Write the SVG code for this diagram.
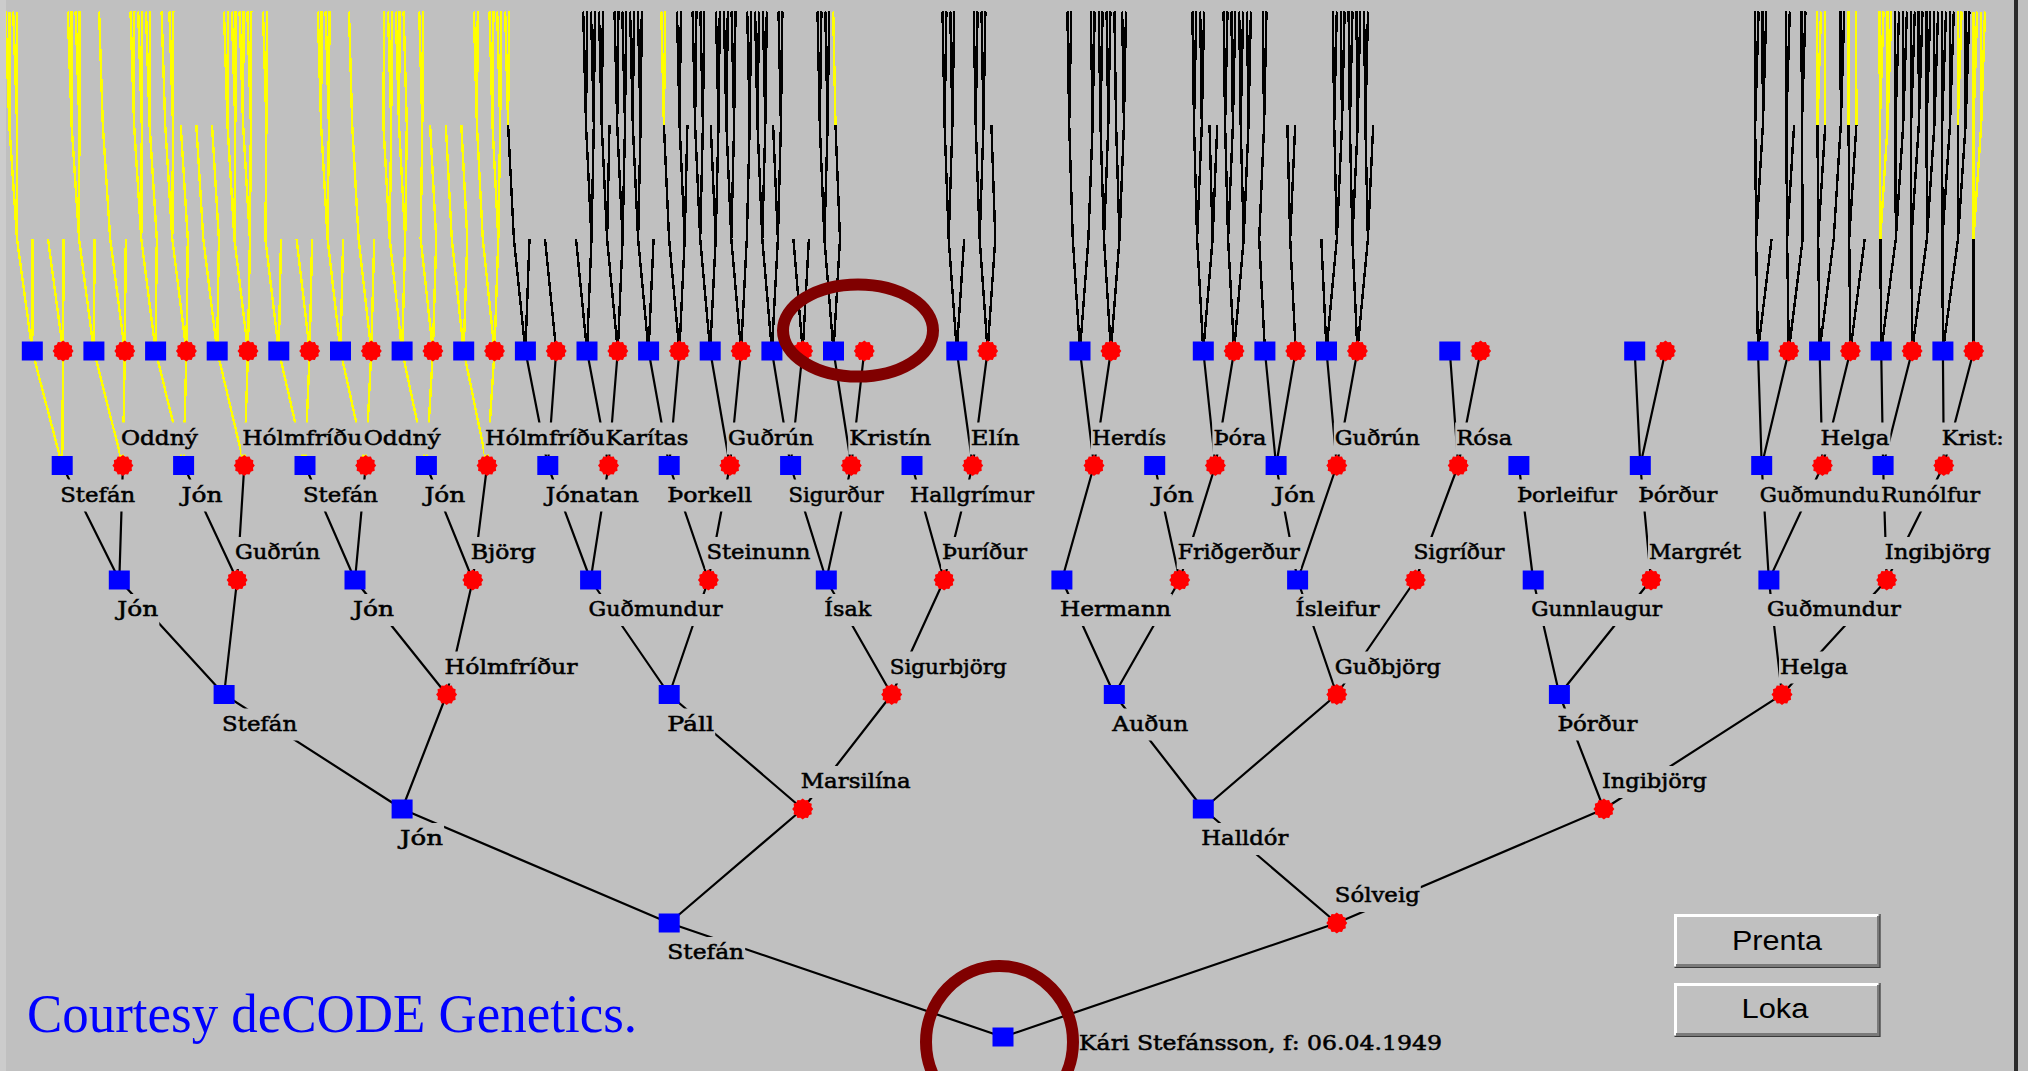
<svg xmlns="http://www.w3.org/2000/svg" width="2028" height="1071" viewBox="0 0 2028 1071">
<style>
.c{fill:none;stroke:#000;stroke-width:2.2}
.y{fill:none;stroke:#ffff00;stroke-width:2.4;shape-rendering:crispEdges}
.a{fill:none;stroke:#000;stroke-width:2.4;shape-rendering:crispEdges}
.b{fill:#c0c0c0}
.l{font-family:"DejaVu Serif",serif;font-size:21px;fill:#000;stroke:#000;stroke-width:0.55}
.btn{font-family:"Liberation Sans",Arial,sans-serif;font-size:27px;fill:#000}
</style>
<defs>
<rect id="sq" x="-10.5" y="-9.5" width="21" height="19" fill="#0000ff"/>
<polygon id="rd" fill="#ff0000" points="10.5,0 8.69,2.33 9.09,5.25 6.36,6.36 5.25,9.09 2.33,8.69 0,10.5 -2.33,8.69 -5.25,9.09 -6.36,6.36 -9.09,5.25 -8.69,2.33 -10.5,0 -8.69,-2.33 -9.09,-5.25 -6.36,-6.36 -5.25,-9.09 -2.33,-8.69 0,-10.5 2.33,-8.69 5.25,-9.09 6.36,-6.36 9.09,-5.25 8.69,-2.33"/>
</defs>
<rect width="2028" height="1071" fill="#c0c0c0"/>
<g id="connectors">
<path class="y" d="M32.3 351L17 239L9.3 125L5.4 11.5M9.3 125L9.3 11.5M17 239L17.1 125L13.2 11.5M17.1 125L17.1 11.5M32.3 351L32.5 239
M63.1 351L48 239M63.1 351L63.6 239
M93.9 351L79.1 239L71.6 125L67.8 11.5M71.6 125L71.7 11.5M79.1 239L79.4 125L75.6 11.5M79.4 125L79.5 11.5M93.9 351L94.6 239
M124.8 351L110.2 239L102.8 125L99.1 11.5M124.8 351L125.8 239
M155.6 351L141.3 239L134.1 125L130.5 11.5M134.1 125L134.3 11.5M141.3 239L141.8 125L138.2 11.5M141.8 125L142 11.5M155.6 351L156.8 239L149.6 125L146 11.5M149.6 125L149.8 11.5
M186.4 351L172.3 239L165.2 125L161.6 11.5M172.3 239L173 125L169.4 11.5M173 125L173.3 11.5M186.4 351L187.8 239L180.7 125
M217.2 351L203.3 239L196.3 125M217.2 351L218.9 239L212 125
M248 351L234.4 239L227.5 125L224 11.5M227.5 125L227.9 11.5M234.4 239L235.3 125L231.8 11.5M235.3 125L235.7 11.5M248 351L249.9 239L243.1 125L239.6 11.5M243.1 125L243.5 11.5M249.9 239L250.9 125L247.4 11.5M250.9 125L251.3 11.5
M278.8 351L265.4 239L266.4 125L263 11.5M266.4 125L266.9 11.5M278.8 351L281 239
M309.7 351L296.6 239M309.7 351L312.1 239
M340.5 351L327.6 239L321.1 125L317.8 11.5M321.1 125L321.7 11.5M327.6 239L328.9 125L325.6 11.5M328.9 125L329.5 11.5M340.5 351L343.1 239
M371.3 351L358.6 239L352.2 125L349 11.5M371.3 351L374.2 239
M402.1 351L389.7 239L383.4 125L384.1 11.5M389.7 239L391.2 125L388 11.5M391.2 125L391.9 11.5M402.1 351L405.2 239L399 125L395.8 11.5M399 125L399.7 11.5M405.2 239L406.8 125L403.6 11.5
M432.9 351L420.7 239L422.3 125L419.2 11.5M422.3 125L423.1 11.5M432.9 351L436.2 239L430.1 125
M463.7 351L451.8 239L445.8 125M463.7 351L467.3 239L461.3 125
M494.5 351L482.8 239L476.9 125L473.9 11.5M476.9 125L477.8 11.5M494.5 351L498.3 239L492.5 125L489.5 11.5M492.5 125L493.4 11.5M498.3 239L500.2 125L497.2 11.5M500.2 125L501.1 11.5
M508.1 125L505.2 11.5M508.1 125L509.1 11.5M663.9 125L661.3 11.5M663.9 125L665.2 11.5M835.5 125L833.2 11.5
M1817.5 125L1817.2 11.5M1817.5 125L1821 11.5M1825.3 125L1825 11.5M1848.6 125L1848.3 11.5M1856.4 125L1856.1 11.5
M1880.3 239L1879.8 125L1879.6 11.5M1879.8 125L1883.5 11.5M1880.3 239L1887.6 125L1887.4 11.5M1887.6 125L1891.3 11.5
M1957.8 125L1957.7 11.5M1957.8 125L1961.6 11.5
M1973.5 239L1973.4 125L1973.4 11.5M1973.4 125L1977.2 11.5M1973.5 239L1981.2 125L1981.2 11.5M1981.2 125L1985 11.5
M62.2 465.5L32.3 351M62.2 465.5L63.1 351M122.9 465.5L93.9 351M122.9 465.5L124.8 351M183.6 465.5L155.6 351M183.6 465.5L186.4 351M244.3 465.5L217.2 351M244.3 465.5L248 351M305 465.5L278.8 351M305 465.5L309.7 351M365.7 465.5L340.5 351M365.7 465.5L371.3 351M426.4 465.5L402.1 351M426.4 465.5L432.9 351M487.1 465.5L463.7 351M487.1 465.5L494.5 351"/>
<path class="a" d="M525.4 351L513.9 239L508.1 125M525.4 351L529.5 239
M556.2 351L545 239
M587 351L576 239M587 351L591.5 239L586 125L583.2 11.5M586 125L587.1 11.5M591.5 239L593.8 125L591 11.5M593.8 125L594.9 11.5
M617.8 351L607.1 239L601.7 125L599 11.5M601.7 125L602.9 11.5M607.1 239L609.5 125M617.8 351L622.6 239L617.2 125L614.5 11.5M617.2 125L618.4 11.5M622.6 239L625 125L622.3 11.5M625 125L626.2 11.5
M648.6 351L638.1 239L632.8 125L630.1 11.5M632.8 125L634 11.5M638.1 239L640.6 125L637.9 11.5M640.6 125L641.8 11.5M648.6 351L653.6 239
M679.4 351L669.1 239L663.9 125M679.4 351L684.7 239L679.6 125L677 11.5M679.6 125L680.9 11.5M684.7 239L687.4 125
M710.2 351L700.2 239L695.1 125L692.6 11.5M695.1 125L696.4 11.5M700.2 239L702.9 125L700.4 11.5M702.9 125L704.2 11.5M710.2 351L715.7 239L710.7 125M715.7 239L718.5 125L716 11.5M718.5 125L719.8 11.5
M741.1 351L731.3 239L726.4 125L723.9 11.5M726.4 125L727.8 11.5M731.3 239L734.1 125L731.6 11.5M734.1 125L735.5 11.5M741.1 351L746.8 239L749.7 125L747.2 11.5M749.7 125L751.1 11.5
M771.9 351L762.3 239L757.5 125L755.1 11.5M757.5 125L759 11.5M762.3 239L765.3 125L762.9 11.5M765.3 125L766.8 11.5M771.9 351L777.9 239L773.1 125M777.9 239L780.9 125L778.5 11.5M780.9 125L782.4 11.5
M802.7 351L793.4 239M802.7 351L808.9 239
M833.5 351L824.4 239L819.8 125L817.5 11.5M819.8 125L821.4 11.5M824.4 239L827.6 125L825.3 11.5M827.6 125L829.2 11.5M833.5 351L840 239L835.5 125
M956.8 351L948.7 239L944.6 125L942.5 11.5M944.6 125L946.4 11.5M948.7 239L952.4 125L950.3 11.5M952.4 125L954.2 11.5M956.8 351L964.2 239
M987.6 351L979.7 239L975.7 125L973.7 11.5M975.7 125L977.6 11.5M979.7 239L983.5 125L981.5 11.5M983.5 125L985.4 11.5M987.6 351L995.3 239L991.4 125
M1080 351L1072.8 239L1069.2 125L1067.4 11.5M1069.2 125L1071.3 11.5M1080 351L1088.4 239L1092.6 125L1090.8 11.5M1092.6 125L1094.7 11.5
M1110.9 351L1104 239L1100.5 125L1098.8 11.5M1100.5 125L1102.6 11.5M1104 239L1108.3 125L1106.6 11.5M1108.3 125L1110.4 11.5M1110.9 351L1119.5 239L1116.1 125L1114.4 11.5M1119.5 239L1123.9 125L1122.2 11.5M1123.9 125L1126 11.5
M1203.3 351L1197.1 239L1194 125L1192.4 11.5M1194 125L1196.3 11.5M1197.1 239L1201.8 125L1200.2 11.5M1201.8 125L1204.1 11.5M1203.3 351L1212.6 239L1209.5 125M1212.6 239L1217.3 125
M1234.1 351L1228.1 239L1225.1 125L1223.6 11.5M1225.1 125L1227.5 11.5M1228.1 239L1232.9 125L1231.4 11.5M1232.9 125L1235.3 11.5M1234.1 351L1243.7 239L1240.7 125L1239.2 11.5M1240.7 125L1243.1 11.5M1243.7 239L1248.5 125L1247 11.5M1248.5 125L1250.9 11.5
M1264.9 351L1259.2 239L1264.1 125L1262.7 11.5M1264.1 125L1266.5 11.5
M1295.7 351L1290.2 239L1287.4 125M1290.2 239L1295.2 125
M1326.5 351L1321.3 239M1326.5 351L1336.8 239L1334.2 125L1332.9 11.5M1334.2 125L1336.8 11.5M1336.8 239L1342 125L1340.7 11.5M1342 125L1344.6 11.5
M1357.4 351L1352.4 239L1349.9 125L1348.6 11.5M1349.9 125L1352.5 11.5M1352.4 239L1357.7 125L1356.4 11.5M1357.7 125L1360.3 11.5M1357.4 351L1367.9 239L1365.4 125L1364.1 11.5M1365.4 125L1368 11.5M1367.9 239L1373.2 125
M1758 351L1756.1 239L1755.2 125L1754.7 11.5M1755.2 125L1758.6 11.5M1756.1 239L1762.9 125L1762.4 11.5M1762.9 125L1766.3 11.5M1758 351L1771.6 239
M1788.8 351L1787.1 239L1786.3 125L1785.9 11.5M1786.3 125L1789.8 11.5M1787.1 239L1794.1 125M1788.8 351L1802.7 239L1801.9 125L1801.5 11.5M1801.9 125L1805.4 11.5
M1819.6 351L1818.2 239L1817.5 125M1818.2 239L1825.3 125M1819.6 351L1833.7 239L1840.8 125L1840.5 11.5M1840.8 125L1844.3 11.5
M1850.4 351L1849.2 239L1848.6 125M1849.2 239L1856.4 125M1850.4 351L1864.7 239
M1881.2 351L1880.3 239M1881.2 351L1895.8 239L1895.4 125L1895.2 11.5M1895.4 125L1899.1 11.5M1895.8 239L1903.2 125L1903 11.5M1903.2 125L1906.9 11.5
M1912.1 351L1911.4 239L1911.1 125L1910.9 11.5M1911.1 125L1914.8 11.5M1911.4 239L1918.8 125L1918.6 11.5M1918.8 125L1922.5 11.5M1912.1 351L1926.9 239L1926.6 125L1926.4 11.5M1926.6 125L1930.3 11.5M1926.9 239L1934.4 125L1934.2 11.5M1934.4 125L1938.1 11.5
M1942.9 351L1942.4 239L1942.2 125L1942.1 11.5M1942.2 125L1946 11.5M1942.4 239L1950 125L1949.9 11.5M1950 125L1953.8 11.5M1942.9 351L1958 239L1957.8 125M1958 239L1965.6 125L1965.5 11.5M1965.6 125L1969.4 11.5
M1973.7 351L1973.5 239"/>
<path class="c" d="M1003 1037L669.2 923M1003 1037L1336.8 923
M669.2 923L402.1 809M669.2 923L802.7 809M1336.8 923L1203.3 809M1336.8 923L1603.9 809
M402.1 809L224.1 694.5M402.1 809L446.6 694.5M802.7 809L669.2 694.5M802.7 809L891.7 694.5M1203.3 809L1114.3 694.5M1203.3 809L1336.8 694.5M1603.9 809L1559.4 694.5M1603.9 809L1782 694.5
M224.1 694.5L119.3 580M224.1 694.5L237.1 580M446.6 694.5L355 580M446.6 694.5L472.8 580M669.2 694.5L590.6 580M669.2 694.5L708.4 580M891.7 694.5L826.3 580M891.7 694.5L944.1 580M1114.3 694.5L1061.9 580M1114.3 694.5L1179.7 580M1336.8 694.5L1297.6 580M1336.8 694.5L1415.4 580M1559.4 694.5L1533.2 580M1559.4 694.5L1651 580M1782 694.5L1768.9 580M1782 694.5L1886.7 580
M119.3 580L62.2 465.5M119.3 580L122.9 465.5M237.1 580L183.6 465.5M237.1 580L244.3 465.5M355 580L305 465.5M355 580L365.7 465.5M472.8 580L426.4 465.5M472.8 580L487.1 465.5M590.6 580L547.8 465.5M590.6 580L608.5 465.5M708.4 580L669.2 465.5M708.4 580L729.9 465.5M826.3 580L790.6 465.5M826.3 580L851.3 465.5M944.1 580L912 465.5M944.1 580L972.7 465.5M1061.9 580L1094 465.5M1179.7 580L1154.7 465.5M1179.7 580L1215.4 465.5M1297.6 580L1276.1 465.5M1297.6 580L1336.8 465.5M1415.4 580L1458.2 465.5M1533.2 580L1518.9 465.5M1651 580L1640.3 465.5M1768.9 580L1761.7 465.5M1768.9 580L1822.4 465.5M1886.7 580L1883.1 465.5M1886.7 580L1943.8 465.5
M547.8 465.5L525.4 351M547.8 465.5L556.2 351M608.5 465.5L587 351M608.5 465.5L617.8 351M669.2 465.5L648.6 351M669.2 465.5L679.4 351M729.9 465.5L710.2 351M729.9 465.5L741.1 351M790.6 465.5L771.9 351M790.6 465.5L802.7 351M851.3 465.5L833.5 351M851.3 465.5L864.3 351M972.7 465.5L956.8 351M972.7 465.5L987.6 351M1094 465.5L1080 351M1094 465.5L1110.9 351M1215.4 465.5L1203.3 351M1215.4 465.5L1234.1 351M1276.1 465.5L1264.9 351M1276.1 465.5L1295.7 351M1336.8 465.5L1326.5 351M1336.8 465.5L1357.4 351M1458.2 465.5L1449.8 351M1458.2 465.5L1480.6 351M1640.3 465.5L1634.7 351M1640.3 465.5L1665.5 351M1761.7 465.5L1758 351M1761.7 465.5L1788.8 351M1822.4 465.5L1819.6 351M1822.4 465.5L1850.4 351M1883.1 465.5L1881.2 351M1883.1 465.5L1912.1 351M1943.8 465.5L1942.9 351M1943.8 465.5L1973.7 351"/>
</g>
<g id="gen6">
<g id="n6-0"><use href="#sq" x="32.3" y="351"/></g>
<g id="n6-1"><use href="#rd" x="63.1" y="351"/></g>
<g id="n6-2"><use href="#sq" x="93.9" y="351"/></g>
<g id="n6-3"><use href="#rd" x="124.8" y="351"/></g>
<g id="n6-4"><use href="#sq" x="155.6" y="351"/></g>
<g id="n6-5"><use href="#rd" x="186.4" y="351"/></g>
<g id="n6-6"><use href="#sq" x="217.2" y="351"/></g>
<g id="n6-7"><use href="#rd" x="248" y="351"/></g>
<g id="n6-8"><use href="#sq" x="278.8" y="351"/></g>
<g id="n6-9"><use href="#rd" x="309.7" y="351"/></g>
<g id="n6-10"><use href="#sq" x="340.5" y="351"/></g>
<g id="n6-11"><use href="#rd" x="371.3" y="351"/></g>
<g id="n6-12"><use href="#sq" x="402.1" y="351"/></g>
<g id="n6-13"><use href="#rd" x="432.9" y="351"/></g>
<g id="n6-14"><use href="#sq" x="463.7" y="351"/></g>
<g id="n6-15"><use href="#rd" x="494.5" y="351"/></g>
<g id="n6-16"><use href="#sq" x="525.4" y="351"/></g>
<g id="n6-17"><use href="#rd" x="556.2" y="351"/></g>
<g id="n6-18"><use href="#sq" x="587" y="351"/></g>
<g id="n6-19"><use href="#rd" x="617.8" y="351"/></g>
<g id="n6-20"><use href="#sq" x="648.6" y="351"/></g>
<g id="n6-21"><use href="#rd" x="679.4" y="351"/></g>
<g id="n6-22"><use href="#sq" x="710.2" y="351"/></g>
<g id="n6-23"><use href="#rd" x="741.1" y="351"/></g>
<g id="n6-24"><use href="#sq" x="771.9" y="351"/></g>
<g id="n6-25"><use href="#rd" x="802.7" y="351"/></g>
<g id="n6-26"><use href="#sq" x="833.5" y="351"/></g>
<g id="n6-27"><use href="#rd" x="864.3" y="351"/></g>
<g id="n6-30"><use href="#sq" x="956.8" y="351"/></g>
<g id="n6-31"><use href="#rd" x="987.6" y="351"/></g>
<g id="n6-34"><use href="#sq" x="1080" y="351"/></g>
<g id="n6-35"><use href="#rd" x="1110.9" y="351"/></g>
<g id="n6-38"><use href="#sq" x="1203.3" y="351"/></g>
<g id="n6-39"><use href="#rd" x="1234.1" y="351"/></g>
<g id="n6-40"><use href="#sq" x="1264.9" y="351"/></g>
<g id="n6-41"><use href="#rd" x="1295.7" y="351"/></g>
<g id="n6-42"><use href="#sq" x="1326.5" y="351"/></g>
<g id="n6-43"><use href="#rd" x="1357.4" y="351"/></g>
<g id="n6-46"><use href="#sq" x="1449.8" y="351"/></g>
<g id="n6-47"><use href="#rd" x="1480.6" y="351"/></g>
<g id="n6-52"><use href="#sq" x="1634.7" y="351"/></g>
<g id="n6-53"><use href="#rd" x="1665.5" y="351"/></g>
<g id="n6-56"><use href="#sq" x="1758" y="351"/></g>
<g id="n6-57"><use href="#rd" x="1788.8" y="351"/></g>
<g id="n6-58"><use href="#sq" x="1819.6" y="351"/></g>
<g id="n6-59"><use href="#rd" x="1850.4" y="351"/></g>
<g id="n6-60"><use href="#sq" x="1881.2" y="351"/></g>
<g id="n6-61"><use href="#rd" x="1912.1" y="351"/></g>
<g id="n6-62"><use href="#sq" x="1942.9" y="351"/></g>
<g id="n6-63"><use href="#rd" x="1973.7" y="351"/></g>
</g>
<g id="gen5">
<g id="n5-0"><use href="#sq" x="62.2" y="465.5"/><rect class="b" x="59.2" y="479.5" width="77" height="32"/><text class="l" x="60.2" y="501.5" textLength="75" lengthAdjust="spacingAndGlyphs">Stefán</text></g>
<g id="n5-1"><use href="#rd" x="122.9" y="465.5"/><rect class="b" x="119.9" y="422.5" width="79" height="32"/><text class="l" x="120.9" y="444.5" textLength="77" lengthAdjust="spacingAndGlyphs">Oddný</text></g>
<g id="n5-2"><use href="#sq" x="183.6" y="465.5"/><rect class="b" x="180.6" y="479.5" width="43" height="32"/><text class="l" x="181.6" y="501.5" textLength="41" lengthAdjust="spacingAndGlyphs">Jón</text></g>
<g id="n5-3"><use href="#rd" x="244.3" y="465.5"/><rect class="b" x="241.3" y="422.5" width="122" height="32"/><text class="l" x="242.3" y="444.5" textLength="120" lengthAdjust="spacingAndGlyphs">Hólmfríðu</text></g>
<g id="n5-4"><use href="#sq" x="305" y="465.5"/><rect class="b" x="302" y="479.5" width="77" height="32"/><text class="l" x="303" y="501.5" textLength="75" lengthAdjust="spacingAndGlyphs">Stefán</text></g>
<g id="n5-5"><use href="#rd" x="365.7" y="465.5"/><rect class="b" x="362.7" y="422.5" width="79" height="32"/><text class="l" x="363.7" y="444.5" textLength="77" lengthAdjust="spacingAndGlyphs">Oddný</text></g>
<g id="n5-6"><use href="#sq" x="426.4" y="465.5"/><rect class="b" x="423.4" y="479.5" width="43" height="32"/><text class="l" x="424.4" y="501.5" textLength="41" lengthAdjust="spacingAndGlyphs">Jón</text></g>
<g id="n5-7"><use href="#rd" x="487.1" y="465.5"/><rect class="b" x="484.1" y="422.5" width="122" height="32"/><text class="l" x="485.1" y="444.5" textLength="120" lengthAdjust="spacingAndGlyphs">Hólmfríðu</text></g>
<g id="n5-8"><use href="#sq" x="547.8" y="465.5"/><rect class="b" x="544.8" y="479.5" width="95" height="32"/><text class="l" x="545.8" y="501.5" textLength="93" lengthAdjust="spacingAndGlyphs">Jónatan</text></g>
<g id="n5-9"><use href="#rd" x="608.5" y="465.5"/><rect class="b" x="604.5" y="422.5" width="85" height="32"/><text class="l" x="605.5" y="444.5" textLength="83" lengthAdjust="spacingAndGlyphs">Karítas</text></g>
<g id="n5-10"><use href="#sq" x="669.2" y="465.5"/><rect class="b" x="666.2" y="479.5" width="87" height="32"/><text class="l" x="667.2" y="501.5" textLength="85" lengthAdjust="spacingAndGlyphs">Þorkell</text></g>
<g id="n5-11"><use href="#rd" x="729.9" y="465.5"/><rect class="b" x="726.9" y="422.5" width="88" height="32"/><text class="l" x="727.9" y="444.5" textLength="86" lengthAdjust="spacingAndGlyphs">Guðrún</text></g>
<g id="n5-12"><use href="#sq" x="790.6" y="465.5"/><rect class="b" x="787.6" y="479.5" width="97" height="32"/><text class="l" x="788.6" y="501.5" textLength="95" lengthAdjust="spacingAndGlyphs">Sigurður</text></g>
<g id="n5-13"><use href="#rd" x="851.3" y="465.5"/><rect class="b" x="848.3" y="422.5" width="84" height="32"/><text class="l" x="849.3" y="444.5" textLength="82" lengthAdjust="spacingAndGlyphs">Kristín</text></g>
<g id="n5-14"><use href="#sq" x="912" y="465.5"/><rect class="b" x="909" y="479.5" width="126" height="32"/><text class="l" x="910" y="501.5" textLength="124" lengthAdjust="spacingAndGlyphs">Hallgrímur</text></g>
<g id="n5-15"><use href="#rd" x="972.7" y="465.5"/><rect class="b" x="969.7" y="422.5" width="51" height="32"/><text class="l" x="970.7" y="444.5" textLength="49" lengthAdjust="spacingAndGlyphs">Elín</text></g>
<g id="n5-17"><use href="#rd" x="1094" y="465.5"/><rect class="b" x="1091" y="422.5" width="76" height="32"/><text class="l" x="1092" y="444.5" textLength="74" lengthAdjust="spacingAndGlyphs">Herdís</text></g>
<g id="n5-18"><use href="#sq" x="1154.7" y="465.5"/><rect class="b" x="1151.7" y="479.5" width="43" height="32"/><text class="l" x="1152.7" y="501.5" textLength="41" lengthAdjust="spacingAndGlyphs">Jón</text></g>
<g id="n5-19"><use href="#rd" x="1215.4" y="465.5"/><rect class="b" x="1212.4" y="422.5" width="55" height="32"/><text class="l" x="1213.4" y="444.5" textLength="53" lengthAdjust="spacingAndGlyphs">Þóra</text></g>
<g id="n5-20"><use href="#sq" x="1276.1" y="465.5"/><rect class="b" x="1273.1" y="479.5" width="43" height="32"/><text class="l" x="1274.1" y="501.5" textLength="41" lengthAdjust="spacingAndGlyphs">Jón</text></g>
<g id="n5-21"><use href="#rd" x="1336.8" y="465.5"/><rect class="b" x="1333.8" y="422.5" width="87" height="32"/><text class="l" x="1334.8" y="444.5" textLength="85" lengthAdjust="spacingAndGlyphs">Guðrún</text></g>
<g id="n5-23"><use href="#rd" x="1458.2" y="465.5"/><rect class="b" x="1455.2" y="422.5" width="58" height="32"/><text class="l" x="1456.2" y="444.5" textLength="56" lengthAdjust="spacingAndGlyphs">Rósa</text></g>
<g id="n5-24"><use href="#sq" x="1518.9" y="465.5"/><rect class="b" x="1515.9" y="479.5" width="102" height="32"/><text class="l" x="1516.9" y="501.5" textLength="100" lengthAdjust="spacingAndGlyphs">Þorleifur</text></g>
<g id="n5-26"><use href="#sq" x="1640.3" y="465.5"/><rect class="b" x="1637.3" y="479.5" width="81" height="32"/><text class="l" x="1638.3" y="501.5" textLength="79" lengthAdjust="spacingAndGlyphs">Þórður</text></g>
<g id="n5-28"><use href="#sq" x="1761.7" y="465.5"/><rect class="b" x="1758.7" y="479.5" width="122" height="32"/><text class="l" x="1759.7" y="501.5" textLength="120" lengthAdjust="spacingAndGlyphs">Guðmundu</text></g>
<g id="n5-29"><use href="#rd" x="1822.4" y="465.5"/><rect class="b" x="1819.4" y="422.5" width="71" height="32"/><text class="l" x="1820.4" y="444.5" textLength="69" lengthAdjust="spacingAndGlyphs">Helga</text></g>
<g id="n5-30"><use href="#sq" x="1883.1" y="465.5"/><rect class="b" x="1880.1" y="479.5" width="101" height="32"/><text class="l" x="1881.1" y="501.5" textLength="99" lengthAdjust="spacingAndGlyphs">Runólfur</text></g>
<g id="n5-31"><use href="#rd" x="1943.8" y="465.5"/><rect class="b" x="1940.8" y="422.5" width="64" height="32"/><text class="l" x="1941.8" y="444.5" textLength="62" lengthAdjust="spacingAndGlyphs">Krist:</text></g>
</g>
<g id="gen4">
<g id="n4-0"><use href="#sq" x="119.3" y="580"/><rect class="b" x="116.3" y="594" width="43" height="32"/><text class="l" x="117.3" y="616" textLength="41" lengthAdjust="spacingAndGlyphs">Jón</text></g>
<g id="n4-1"><use href="#rd" x="237.1" y="580"/><rect class="b" x="234.1" y="537" width="87" height="32"/><text class="l" x="235.1" y="559" textLength="85" lengthAdjust="spacingAndGlyphs">Guðrún</text></g>
<g id="n4-2"><use href="#sq" x="355" y="580"/><rect class="b" x="352" y="594" width="43" height="32"/><text class="l" x="353" y="616" textLength="41" lengthAdjust="spacingAndGlyphs">Jón</text></g>
<g id="n4-3"><use href="#rd" x="472.8" y="580"/><rect class="b" x="469.8" y="537" width="67" height="32"/><text class="l" x="470.8" y="559" textLength="65" lengthAdjust="spacingAndGlyphs">Björg</text></g>
<g id="n4-4"><use href="#sq" x="590.6" y="580"/><rect class="b" x="587.6" y="594" width="136" height="32"/><text class="l" x="588.6" y="616" textLength="134" lengthAdjust="spacingAndGlyphs">Guðmundur</text></g>
<g id="n4-5"><use href="#rd" x="708.4" y="580"/><rect class="b" x="705.4" y="537" width="106" height="32"/><text class="l" x="706.4" y="559" textLength="104" lengthAdjust="spacingAndGlyphs">Steinunn</text></g>
<g id="n4-6"><use href="#sq" x="826.3" y="580"/><rect class="b" x="823.3" y="594" width="49" height="32"/><text class="l" x="824.3" y="616" textLength="47" lengthAdjust="spacingAndGlyphs">Ísak</text></g>
<g id="n4-7"><use href="#rd" x="944.1" y="580"/><rect class="b" x="941.1" y="537" width="87" height="32"/><text class="l" x="942.1" y="559" textLength="85" lengthAdjust="spacingAndGlyphs">Þuríður</text></g>
<g id="n4-8"><use href="#sq" x="1061.9" y="580"/><rect class="b" x="1058.9" y="594" width="113" height="32"/><text class="l" x="1059.9" y="616" textLength="111" lengthAdjust="spacingAndGlyphs">Hermann</text></g>
<g id="n4-9"><use href="#rd" x="1179.7" y="580"/><rect class="b" x="1176.7" y="537" width="124" height="32"/><text class="l" x="1177.7" y="559" textLength="122" lengthAdjust="spacingAndGlyphs">Friðgerður</text></g>
<g id="n4-10"><use href="#sq" x="1297.6" y="580"/><rect class="b" x="1294.6" y="594" width="86" height="32"/><text class="l" x="1295.6" y="616" textLength="84" lengthAdjust="spacingAndGlyphs">Ísleifur</text></g>
<g id="n4-11"><use href="#rd" x="1415.4" y="580"/><rect class="b" x="1412.4" y="537" width="93" height="32"/><text class="l" x="1413.4" y="559" textLength="91" lengthAdjust="spacingAndGlyphs">Sigríður</text></g>
<g id="n4-12"><use href="#sq" x="1533.2" y="580"/><rect class="b" x="1530.2" y="594" width="133" height="32"/><text class="l" x="1531.2" y="616" textLength="131" lengthAdjust="spacingAndGlyphs">Gunnlaugur</text></g>
<g id="n4-13"><use href="#rd" x="1651" y="580"/><rect class="b" x="1648" y="537" width="94" height="32"/><text class="l" x="1649" y="559" textLength="92" lengthAdjust="spacingAndGlyphs">Margrét</text></g>
<g id="n4-14"><use href="#sq" x="1768.9" y="580"/><rect class="b" x="1765.9" y="594" width="136" height="32"/><text class="l" x="1766.9" y="616" textLength="134" lengthAdjust="spacingAndGlyphs">Guðmundur</text></g>
<g id="n4-15"><use href="#rd" x="1886.7" y="580"/><rect class="b" x="1883.7" y="537" width="108" height="32"/><text class="l" x="1884.7" y="559" textLength="106" lengthAdjust="spacingAndGlyphs">Ingibjörg</text></g>
</g>
<g id="gen3">
<g id="n3-0"><use href="#sq" x="224.1" y="694.5"/><rect class="b" x="221.1" y="708.5" width="77" height="32"/><text class="l" x="222.1" y="730.5" textLength="75" lengthAdjust="spacingAndGlyphs">Stefán</text></g>
<g id="n3-1"><use href="#rd" x="446.6" y="694.5"/><rect class="b" x="443.6" y="651.5" width="135" height="32"/><text class="l" x="444.6" y="673.5" textLength="133" lengthAdjust="spacingAndGlyphs">Hólmfríður</text></g>
<g id="n3-2"><use href="#sq" x="669.2" y="694.5"/><rect class="b" x="666.2" y="708.5" width="49" height="32"/><text class="l" x="667.2" y="730.5" textLength="47" lengthAdjust="spacingAndGlyphs">Páll</text></g>
<g id="n3-3"><use href="#rd" x="891.7" y="694.5"/><rect class="b" x="888.7" y="651.5" width="119" height="32"/><text class="l" x="889.7" y="673.5" textLength="117" lengthAdjust="spacingAndGlyphs">Sigurbjörg</text></g>
<g id="n3-4"><use href="#sq" x="1114.3" y="694.5"/><rect class="b" x="1111.3" y="708.5" width="78" height="32"/><text class="l" x="1112.3" y="730.5" textLength="76" lengthAdjust="spacingAndGlyphs">Auðun</text></g>
<g id="n3-5"><use href="#rd" x="1336.8" y="694.5"/><rect class="b" x="1333.8" y="651.5" width="108" height="32"/><text class="l" x="1334.8" y="673.5" textLength="106" lengthAdjust="spacingAndGlyphs">Guðbjörg</text></g>
<g id="n3-6"><use href="#sq" x="1559.4" y="694.5"/><rect class="b" x="1556.4" y="708.5" width="82" height="32"/><text class="l" x="1557.4" y="730.5" textLength="80" lengthAdjust="spacingAndGlyphs">Þórður</text></g>
<g id="n3-7"><use href="#rd" x="1782" y="694.5"/><rect class="b" x="1779" y="651.5" width="70" height="32"/><text class="l" x="1780" y="673.5" textLength="68" lengthAdjust="spacingAndGlyphs">Helga</text></g>
</g>
<g id="gen2">
<g id="n2-0"><use href="#sq" x="402.1" y="809"/><rect class="b" x="399.1" y="823" width="45" height="32"/><text class="l" x="400.1" y="845" textLength="43" lengthAdjust="spacingAndGlyphs">Jón</text></g>
<g id="n2-1"><use href="#rd" x="802.7" y="809"/><rect class="b" x="799.7" y="766" width="112" height="32"/><text class="l" x="800.7" y="788" textLength="110" lengthAdjust="spacingAndGlyphs">Marsilína</text></g>
<g id="n2-2"><use href="#sq" x="1203.3" y="809"/><rect class="b" x="1200.3" y="823" width="89" height="32"/><text class="l" x="1201.3" y="845" textLength="87" lengthAdjust="spacingAndGlyphs">Halldór</text></g>
<g id="n2-3"><use href="#rd" x="1603.9" y="809"/><rect class="b" x="1600.9" y="766" width="107" height="32"/><text class="l" x="1601.9" y="788" textLength="105" lengthAdjust="spacingAndGlyphs">Ingibjörg</text></g>
</g>
<g id="gen1">
<g id="n1-0"><use href="#sq" x="669.2" y="923"/><rect class="b" x="666.2" y="937" width="79" height="32"/><text class="l" x="667.2" y="959" textLength="77" lengthAdjust="spacingAndGlyphs">Stefán</text></g>
<g id="n1-1"><use href="#rd" x="1336.8" y="923"/><rect class="b" x="1333.8" y="880" width="87" height="32"/><text class="l" x="1334.8" y="902" textLength="85" lengthAdjust="spacingAndGlyphs">Sólveig</text></g>
</g>
<g id="n0-proband"><use href="#sq" x="1003" y="1037"/><text class="l" x="1079" y="1050" textLength="363" lengthAdjust="spacingAndGlyphs">Kári Stefánsson, f: 06.04.1949</text></g>
<rect x="0" y="0" width="6" height="1071" fill="#cccccc"/>
<rect x="2014" y="0" width="4" height="1071" fill="#2a2a2a"/>
<g id="btn-prenta">
<rect x="1674" y="914" width="206" height="53" fill="#c0c0c0"/>
<path d="M1675.5 966V915.5H1878" fill="none" stroke="#ffffff" stroke-width="3"/>
<path d="M1676 965.5H1878.5V916" fill="none" stroke="#7a7a7a" stroke-width="3"/>
<path d="M1674.5 967.5H1880V914" fill="none" stroke="#3a3a3a" stroke-width="1.2"/>
<text class="btn" x="1777" y="950" text-anchor="middle" textLength="90" lengthAdjust="spacingAndGlyphs">Prenta</text>
</g>
<g id="btn-loka">
<rect x="1674" y="983" width="206" height="53" fill="#c0c0c0"/>
<path d="M1675.5 1035V984.5H1878" fill="none" stroke="#ffffff" stroke-width="3"/>
<path d="M1676 1034.5H1878.5V985" fill="none" stroke="#7a7a7a" stroke-width="3"/>
<path d="M1674.5 1036.5H1880V983" fill="none" stroke="#3a3a3a" stroke-width="1.2"/>
<text class="btn" x="1775" y="1018" text-anchor="middle" textLength="67" lengthAdjust="spacingAndGlyphs">Loka</text>
</g>
<text x="27" y="1031.5" font-family="Liberation Serif, serif" font-size="54" fill="#0000ff" textLength="610" lengthAdjust="spacingAndGlyphs">Courtesy deCODE Genetics.</text>
<g id="annotations" fill="none" stroke="#800000" stroke-width="12">
<ellipse cx="858" cy="330.5" rx="75" ry="46"/>
<ellipse cx="999.5" cy="1042" rx="73.5" ry="76"/>
</g>
</svg>
